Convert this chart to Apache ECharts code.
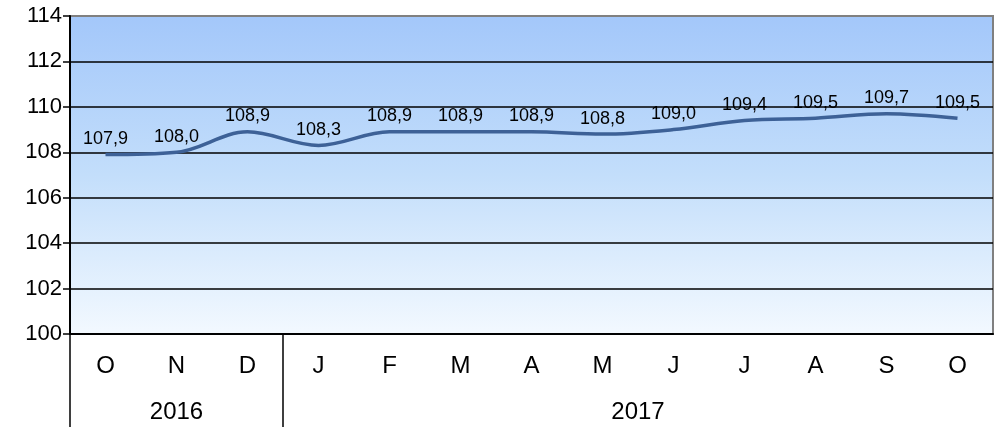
<!DOCTYPE html>
<html>
<head>
<meta charset="utf-8">
<script src="https://cdn.jsdelivr.net/npm/echarts@6/dist/echarts.min.js"></script>
<style>html,body{margin:0;padding:0;background:#fff;}#c{width:995px;height:427px;}</style>
</head>
<body>
<div id="c"></div>
<script>
var months = ['O','N','D','J','F','M','A','M','J','J','A','S','O'];
var values = [107.9,108.0,108.9,108.3,108.9,108.9,108.9,108.8,109.0,109.4,109.5,109.7,109.5];
var years = ['2016','2017'];
var yearSpans = [3,10];
var yTicks = [100,102,104,106,108,110,112,114];

// build half-month slots for the year axis
var slots = [];
for (var i = 0; i <= months.length * 2; i++) slots.push('');
var tickIdx = {};
var start = 0;
years.forEach(function (y, k) {
  tickIdx[start * 2] = true;
  slots[start * 2 + yearSpans[k]] = y;
  start += yearSpans[k];
});
slots = slots.map(function (s, i) { return s === '' ? ('_' + i) : s; });

var font = '"Liberation Sans", Arial, sans-serif';
var chart = echarts.init(document.getElementById('c'));
chart.setOption({
  animation: false,
  grid: {
    left: 70, right: 2, top: 16, bottom: 93,
    show: true,
    borderColor: '#808080', borderWidth: 2,
    backgroundColor: new echarts.graphic.LinearGradient(0, 0, 0, 1, [
      {offset: 0, color: '#A3C7FA'},
      {offset: 0.5, color: '#C3DEFB'},
      {offset: 1, color: '#F3F9FF'}
    ])
  },
  xAxis: [{
    type: 'category',
    data: months,
    boundaryGap: true,
    axisLine: {lineStyle: {color: '#000', width: 2}},
    axisTick: {show: false},
    axisLabel: {color: '#000', fontSize: 24, fontFamily: font, margin: 20}
  }, {
    type: 'category',
    data: slots,
    boundaryGap: false,
    position: 'bottom',
    axisLine: {show: false},
    axisTick: {
      show: true, length: 93, lineStyle: {color: '#000', width: 1.5},
      interval: function (idx) { return !!tickIdx[idx]; }
    },
    axisLabel: {
      color: '#000', fontSize: 24, fontFamily: font, margin: 66,
      interval: function (idx, val) { return val.charAt(0) !== '_'; },
      formatter: function (v) { return v.charAt(0) === '_' ? '' : v; }
    },
    splitLine: {show: false}
  }],
  yAxis: {
    type: 'value',
    min: yTicks[0], max: yTicks[yTicks.length - 1], interval: 2,
    axisLine: {show: true, lineStyle: {color: '#000', width: 2}},
    axisTick: {show: true, length: 7, lineStyle: {color: '#000', width: 1.5}},
    axisLabel: {color: '#000', fontSize: 22, fontFamily: font, margin: 8},
    splitLine: {show: true, showMaxLine: false, lineStyle: {color: '#000', width: 1.5}}
  },
  series: [{
    type: 'line',
    data: values,
    smooth: 0.35,
    symbol: 'circle',
    symbolSize: 1,
    showSymbol: true,
    itemStyle: {color: 'rgba(0,0,0,0)', borderWidth: 0},
    lineStyle: {color: '#3D6197', width: 3.5},
    label: {
      show: true, position: 'top', distance: 6,
      color: '#000', fontSize: 18, fontFamily: font,
      formatter: function (p) { return p.value.toFixed(1).replace('.', ','); }
    }
  }]
});
</script>
</body>
</html>
